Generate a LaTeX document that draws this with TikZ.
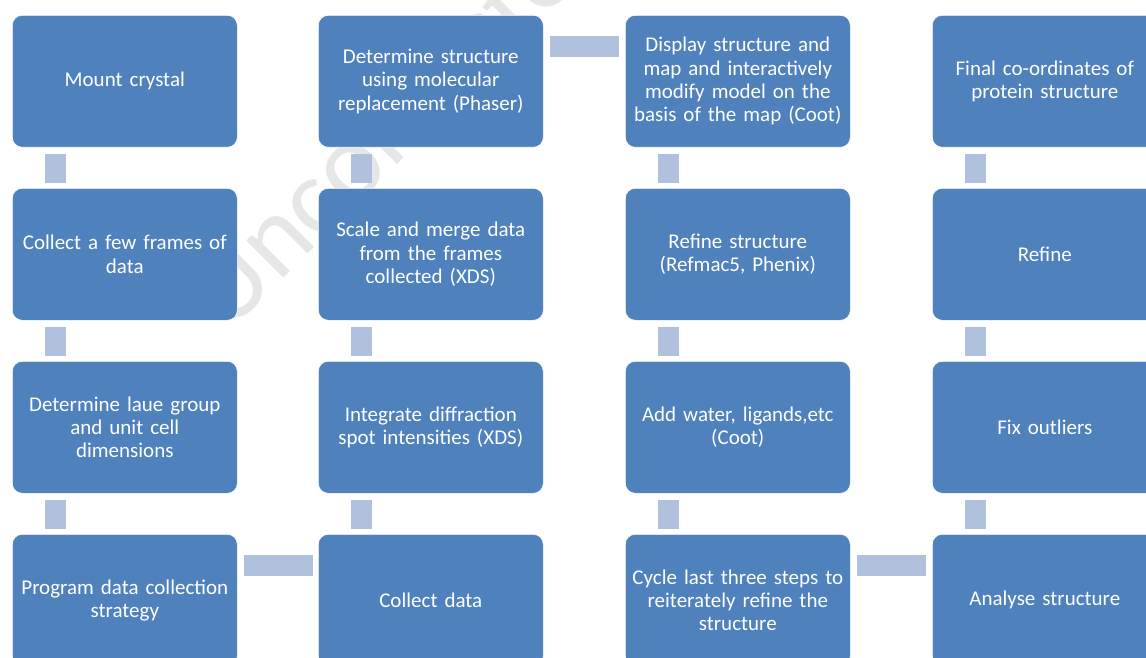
\documentclass[tikz,border=0pt]{standalone}
\usepackage{fontspec}
\setmainfont{Carlito}
\usetikzlibrary{calc}
\definecolor{boxblue}{HTML}{4F81BD}
\definecolor{conn}{HTML}{B0C1DD}
\definecolor{wmgray}{HTML}{E6E6E6}
\begin{document}
\begin{tikzpicture}[x=1pt,y=-1pt,
  stepbox/.style={fill=boxblue, draw=white, line width=0.6pt, rounded corners=10pt,
    minimum width=225pt, minimum height=132pt, text width=222pt, align=center,
    text=white, font=\fontsize{21}{23.4}\selectfont, inner sep=0pt, anchor=north west},
  link/.style={fill=conn, draw=none},
  watermark/.style={text=wmgray, font=\fontsize{110}{110}\selectfont, inner sep=0pt}]
\useasboundingbox (0,0) rectangle (1146,658);
\clip (0,0) rectangle (1146,658);
\fill[white] (0,0) rectangle (1146,658);
\node[watermark, rotate=45, anchor=base west] (wm) at (228,334) {Uncorrected Proof};
% column 1
\node[stepbox] (a1) at (12,15) {Mount crystal};
\node[stepbox] (a2) at (12,188) {Collect a few frames of\\data};
\node[stepbox] (a3) at (12,361) {Determine laue group\\and unit cell\\dimensions};
\node[stepbox] (a4) at (12,534) {Program data collection\\strategy};
% column 2
\node[stepbox] (b1) at (318,15) {Determine structure\\using molecular\\replacement (Phaser)};
\node[stepbox] (b2) at (318,188) {Scale and merge data\\from the frames\\collected (XDS)};
\node[stepbox] (b3) at (318,361) {Integrate diffraction\\spot intensities (XDS)};
\node[stepbox] (b4) at (318,534) {Collect data};
% column 3
\node[stepbox] (c1) at (625,15) {Display structure and\\map and interactively\\modify model on the\\basis of the map (Coot)};
\node[stepbox] (c2) at (625,188) {Refine structure\\(Refmac5, Phenix)};
\node[stepbox] (c3) at (625,361) {Add water, ligands,etc\\(Coot)};
\node[stepbox] (c4) at (625,534) {Cycle last three steps to\\reiterately refine the\\structure};
% column 4
\node[stepbox] (d1) at (932,15) {Final co-ordinates of\\protein structure};
\node[stepbox] (d2) at (932,188) {Refine};
\node[stepbox] (d3) at (932,361) {Fix outliers};
\node[stepbox] (d4) at (932,534) {Analyse structure};
% vertical links
\foreach \n in {a1,a2,a3,b1,b2,b3,c1,c2,c3,d1,d2,d3}{
  \fill[link] ($(\n.south west)+(33,6)$) rectangle ($(\n.south west)+(54,35)$);
}
% horizontal links
\fill[link] ($(a4.north east)+(6,21)$) rectangle ($(b4.north west)+(-5,42)$);
\fill[link] ($(b1.north east)+(6,21)$) rectangle ($(c1.north west)+(-6,42)$);
\fill[link] ($(c4.north east)+(6,21)$) rectangle ($(d4.north west)+(-6,42)$);
\end{tikzpicture}
\end{document}
